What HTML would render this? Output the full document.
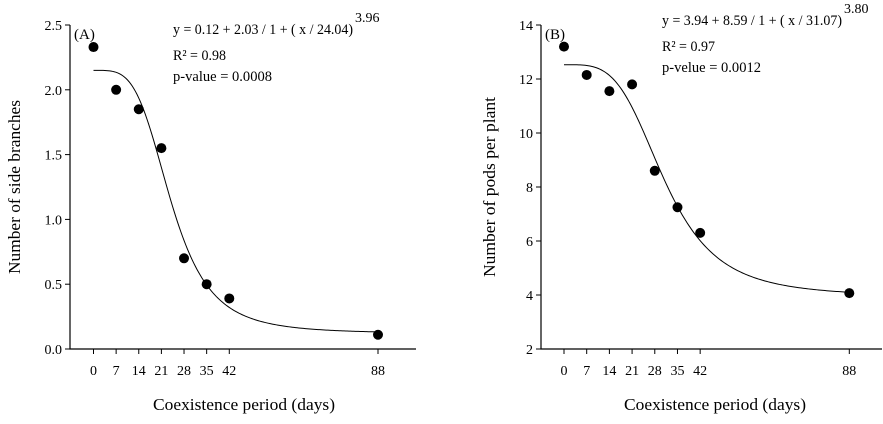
<!DOCTYPE html>
<html><head><meta charset="utf-8"><style>
body{margin:0;background:#fff}
svg{display:block;font-family:"Liberation Serif",serif}
</style></head><body>
<svg id="chart" width="883" height="424" viewBox="0 0 883 424">
<g id="pa"></g>
<g id="pb"></g>
</svg>
<script>
const days = [0, 7, 14, 21, 28, 35, 42, 88];
const branchValues = [2.33, 2.0, 1.85, 1.55, 0.70, 0.50, 0.39, 0.11];
const podValues = [13.2, 12.15, 11.55, 11.8, 8.6, 7.25, 6.3, 4.07];
const branchTicks = ["0.0", "0.5", "1.0", "1.5", "2.0", "2.5"];
const podTicks = ["2", "4", "6", "8", "10", "12", "14"];
const fitA = [0.12, 2.03, 24.04, 3.96];
const fitB = [3.94, 8.59, 31.07, 3.80];

const NS = "http://www.w3.org/2000/svg";
function mk(parent, tag, attrs, text) {
  const e = document.createElementNS(NS, tag);
  for (const k in attrs) e.setAttribute(k, attrs[k]);
  if (text !== undefined) e.textContent = text;
  parent.appendChild(e);
  return e;
}

function panel(g, cfg) {
  const X = d => cfg.x0 + d * (cfg.x88 - cfg.x0) / 88;
  const Y = v => cfg.yBot - (v - cfg.ymin) * (cfg.yBot - cfg.yTop) / (cfg.ymax - cfg.ymin);
  let e = mk(g, "path", {d: `M${cfg.axX},${cfg.yTop} V${cfg.yBot} H${cfg.axR}`, stroke: "#000", fill: "none", "stroke-width": 1.2});
  
  
  cfg.ticks.forEach(t => {
    const yy = Y(parseFloat(t));
    mk(g, "line", {x1: cfg.axX - 5, x2: cfg.axX, y1: yy, y2: yy, stroke: "#000"});
    const tl = mk(g, "text", {x: cfg.axX - 8, y: yy + 5, "text-anchor": "end", "font-size": 14}, t);
    
    
  });
  days.forEach(d => {
    const xx = X(d);
    mk(g, "line", {x1: xx, x2: xx, y1: cfg.yBot, y2: cfg.yBot + 5, stroke: "#000"});
    const tl = mk(g, "text", {x: xx, y: cfg.yBot + 26, "text-anchor": "middle", "font-size": 14}, String(d));
    
    
  });
  const [a, b, c, p] = cfg.fit;
  let dstr = "";
  for (let d = 0; d <= 88; d += 0.5) {
    const v = a + b / (1 + Math.pow(d / c, p));
    dstr += (d === 0 ? "M" : "L") + X(d).toFixed(2) + "," + Y(v).toFixed(2);
  }
  e = mk(g, "path", {d: dstr, stroke: "#000", fill: "none", "stroke-width": 1});
  
  
  cfg.values.forEach((v, i) => {
    const c2 = mk(g, "circle", {cx: X(days[i]), cy: Y(v), r: 5, fill: "#000"});
    
    
  });
  e = mk(g, "text", {x: cfg.axX + 4, y: cfg.yTop + 14, "font-size": 15}, cfg.label);
  
  
  e = mk(g, "text", {x: cfg.eqX, y: cfg.eqY, "font-size": 15, textLength: 180, lengthAdjust: "spacingAndGlyphs"}, cfg.eq);
  
  
  e = mk(g, "text", {x: cfg.eqX + 182, y: cfg.eqY - 12, "font-size": 14}, cfg.sup);
  
  
  e = mk(g, "text", {x: cfg.eqX, y: cfg.eqY + 26, "font-size": 15, textLength: 53, lengthAdjust: "spacingAndGlyphs"}, cfg.r2);
  
  
  e = mk(g, "text", {x: cfg.eqX, y: cfg.eqY + 47, "font-size": 15, textLength: 99, lengthAdjust: "spacingAndGlyphs"}, cfg.pv);
  
  
  e = mk(g, "text", {x: 0, y: 0, "font-size": 17, "text-anchor": "middle", textLength: cfg.ytLen, lengthAdjust: "spacingAndGlyphs", transform: `translate(${cfg.ytX},187) rotate(-90)`}, cfg.ytitle);
  
  
  e = mk(g, "text", {x: cfg.xtX, y: 410, "font-size": 17, "text-anchor": "middle", textLength: 182, lengthAdjust: "spacingAndGlyphs"}, "Coexistence period (days)");
  
  
}

panel(document.getElementById("pa"), {
  x0: 93.5, x88: 378, axX: 70, axR: 416, yTop: 25, yBot: 349, ymin: 0, ymax: 2.5,
  ticks: branchTicks, values: branchValues, fit: fitA, label: "(A)",
  eqX: 173, eqY: 34, eq: "y = 0.12 + 2.03 / 1 + ( x / 24.04)", sup: "3.96",
  r2: "R² = 0.98", pv: "p-value = 0.0008", ytitle: "Number of side branches", ytX: 20, ytLen: 174, xtX: 244
});
panel(document.getElementById("pb"), {
  x0: 564, x88: 849.3, axX: 541, axR: 882, yTop: 25, yBot: 349, ymin: 2, ymax: 14,
  ticks: podTicks, values: podValues, fit: fitB, label: "(B)",
  eqX: 662, eqY: 25, eq: "y = 3.94 + 8.59 / 1 + ( x / 31.07)", sup: "3.80",
  r2: "R² = 0.97", pv: "p-velue = 0.0012", ytitle: "Number of pods per plant", ytX: 495, ytLen: 180, xtX: 715
});
</script>
</body></html>
